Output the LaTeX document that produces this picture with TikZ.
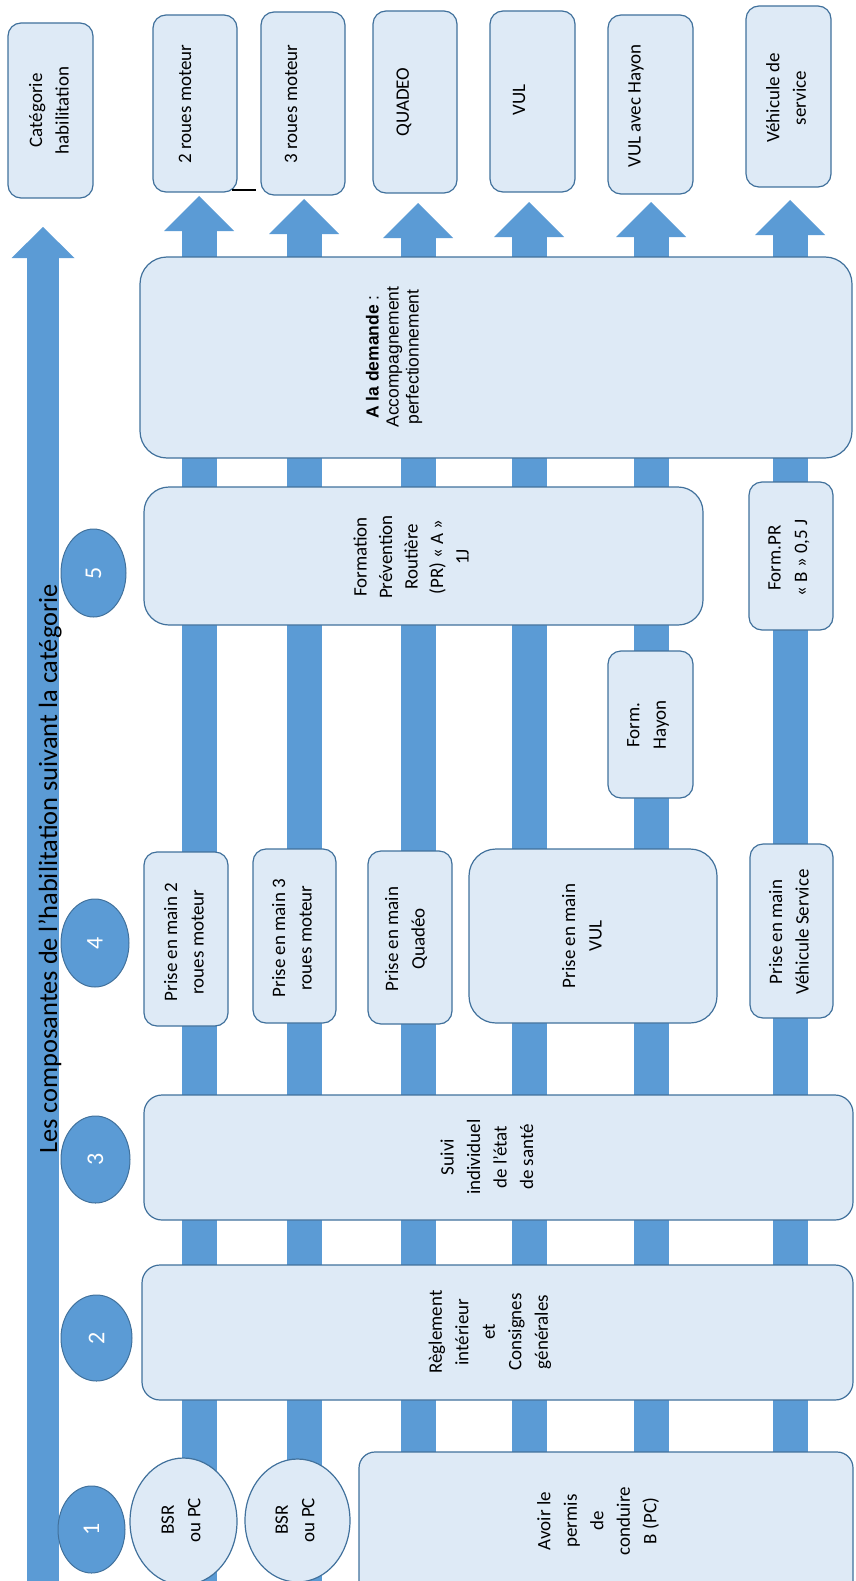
\documentclass[tikz,border=0pt]{standalone}
\usepackage{fontspec}
\setmainfont{Carlito}
\newfontfamily\arialf{Liberation Sans}
\usepackage{graphicx}
\usetikzlibrary{arrows.meta,shapes.geometric}
\definecolor{barblue}{HTML}{5B9BD5}
\definecolor{boxfill}{HTML}{DEEAF6}
\definecolor{boxline}{HTML}{41719C}
\tikzset{
  box/.style={draw=boxline, fill=boxfill, line width=1.2pt, rounded corners=13pt, inner sep=0pt},
  bigbox/.style={box, rounded corners=27pt},
  midbox/.style={box, rounded corners=18pt},
  wh/.style 2 args={minimum width=#1pt, minimum height=#2pt},
  oval/.style={ellipse, draw=boxline, fill=boxfill, line width=1.2pt, inner sep=0pt},
  numc/.style={ellipse, draw=boxline, fill=barblue, line width=1pt, inner sep=0pt, text=white, font=\fontsize{24}{28}\selectfont},
  txt/.style={rotate=90, align=center, inner sep=0pt, font=\fontsize{19}{26.5}\selectfont},
  colarrow/.style={draw=barblue, line width=35pt, -{Triangle[width=70pt 0 0, length=35pt 0 0, line width=0pt 0 0]}},
  titlearrow/.style={draw=barblue, line width=32pt, -{Triangle[width=63pt 0 0, length=31pt 0 0, line width=0pt 0 0]}}
}
\begin{document}
\begin{tikzpicture}[x=1pt,y=-1pt]
\useasboundingbox (0,0) rectangle (855,1581);
\clip (0,0) rectangle (855,1581);

% ---------- coordinates for the arrows ----------
\coordinate (tb) at (43,1600);  \coordinate (tt) at (43,227);
\coordinate (b1) at (199,1600); \coordinate (a1) at (199,196);
\coordinate (b2) at (304,1600); \coordinate (a2) at (304,199);
\coordinate (b3) at (418,1600); \coordinate (a3) at (418,203);
\coordinate (b4) at (529,1600); \coordinate (a4) at (529,202);
\coordinate (b5) at (651,1600); \coordinate (a5) at (651,202);
\coordinate (b6) at (790,1600); \coordinate (a6) at (790,200);

\draw[titlearrow] (tb) -- (tt);
\draw[colarrow] (b1) -- (a1);
\draw[colarrow] (b2) -- (a2);
\draw[colarrow] (b3) -- (a3);
\draw[colarrow] (b4) -- (a4);
\draw[colarrow] (b5) -- (a5);
\draw[colarrow] (b6) -- (a6);

% ---------- category boxes (top) ----------
\node[box, wh={85}{175}] (cat0) at (50.5,110.5) {};
\node[box, wh={84}{177}] (cat1) at (195,103.5) {};
\node[box, wh={84}{183}] (cat2) at (303,103.5) {};
\node[box, wh={84}{182}] (cat3) at (415,102) {};
\node[box, wh={85}{181}] (cat4) at (532.5,101.5) {};
\node[box, wh={85}{179}] (cat5) at (650.5,104.5) {};
\node[box, wh={85}{181}] (cat6) at (788.5,96.5) {};
\draw[black, line width=1.3pt] (232,190) -- (256,190);

% ---------- component boxes ----------
\node[bigbox, wh={712}{201}] (adem) at (496,357.5) {};
\node[bigbox, rounded corners=25pt, wh={559}{138}] (fprA) at (423.5,556) {};
\node[box, wh={84}{148}] (fprB) at (791,556) {};
\node[box, wh={85}{147}] (fhay) at (650.5,724.5) {};
\node[box, wh={84}{174}] (pm2) at (186,939) {};
\node[box, wh={83}{174}] (pm3) at (294.5,936) {};
\node[box, wh={84}{173}] (pmQ) at (410,937.5) {};
\node[bigbox, wh={248}{174}] (pmV) at (593,936) {};
\node[box, wh={83}{174}] (pmS) at (791.5,931) {};
\node[midbox, wh={709}{125}] (suivi) at (498.5,1157.5) {};
\node[midbox, wh={711}{135}] (regl) at (497.5,1332.5) {};
\node[box, rounded corners=16pt, wh={494}{148}] (avoir) at (606,1526) {};
\node[oval, wh={107}{127}] (bsr1) at (183.5,1521.5) {};
\node[oval, wh={105}{123}] (bsr2) at (297.5,1520.5) {};

% ---------- numbered circles ----------
\node[numc, wh={67}{87}] (n1) at (91.5,1529.5) {\rotatebox{90}{1}};
\node[numc, wh={71}{86}] (n2) at (96.5,1338) {\rotatebox{90}{2}};
\node[numc, wh={69}{87}] (n3) at (95.5,1159.5) {\rotatebox{90}{3}};
\node[numc, wh={68}{88}] (n4) at (95,943) {\rotatebox{90}{4}};
\node[numc, wh={65}{88}] (n5) at (93.5,573) {\rotatebox{90}{5}};

% ---------- texts ----------
\node[rotate=90, anchor=base, inner sep=0pt, font=\fontsize{26.4}{30}\selectfont] (title) at (57,869) {Les composantes de l\char39 habilitation suivant la catégorie};

\node[txt] (tcat0) at (49,110.5) {Catégorie\\habilitation};
\node[txt] (tcat1) at (185,104) {2 roues moteur};
\node[txt] (tcat2) at (291,104) {3 roues moteur};
\node[txt] (tcat3) at (404,102) {QUADEO};
\node[txt] (tcat4) at (519,100) {VUL};
\node[txt] (tcat5) at (636,106) {VUL avec Hayon};
\node[txt] (tcat6) at (786,98) {Véhicule de\\service};

\node[txt, font=\arialf\fontsize{17.5}{20}\selectfont] (tadem) at (394,357) {{\bfseries A la demande} :\\Accompagnement\\perfectionnement};
\node[txt, font=\fontsize{19}{25.5}\selectfont] (tfprA) at (411,557) {Formation\\Prévention\\Routière\\(PR) « A »\\1J};
\node[txt] (tfprB) at (789,558) {Form.PR\\« B » 0,5 J};
\node[txt] (tfhay) at (648,725) {Form.\\Hayon};
\node[txt] (tpm2) at (184,942) {Prise en main 2\\roues moteur};
\node[txt] (tpm3) at (292,938) {Prise en main 3\\roues moteur};
\node[txt] (tpmQ) at (406,939) {Prise en main\\Quadéo};
\node[txt] (tpmV) at (582,936) {Prise en main\\VUL};
\node[txt] (tpmS) at (789,932) {Prise en main\\Véhicule Service};
\node[txt] (tsuivi) at (487,1157) {Suivi\\individuel\\de l’état\\de santé};
\node[txt] (tregl) at (490,1332) {Règlement\\intérieur\\et\\Consignes\\générales};
\node[txt] (tavoir) at (598,1521) {Avoir le\\permis\\de\\conduire\\B (PC)};
\node[txt] (tbsr1) at (181,1520) {BSR\\ou PC};
\node[txt] (tbsr2) at (295,1520) {BSR\\ou PC};
\end{tikzpicture}
\end{document}
